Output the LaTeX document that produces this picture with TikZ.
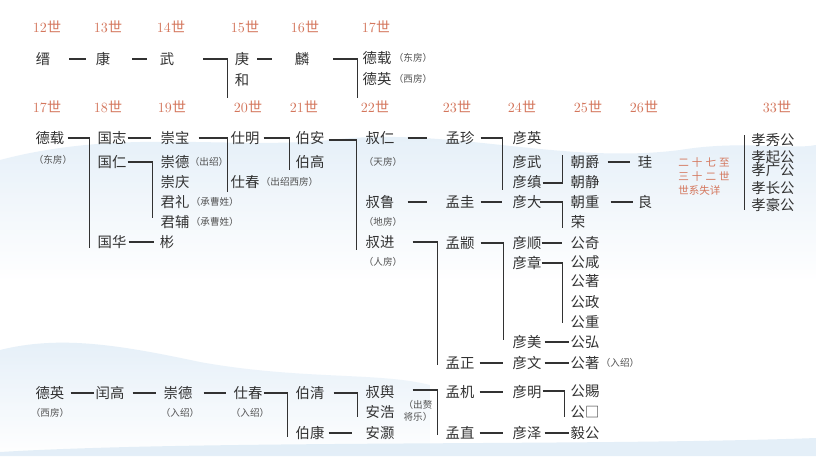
\documentclass[tikz,border=0pt]{standalone}
\usepackage{fontspec}
\usepackage{tikz}
\usetikzlibrary{calc}
\newfontfamily\cjk{Noto Sans CJK SC}
\definecolor{gencol}{RGB}{212,118,92}
\definecolor{ink}{RGB}{50,50,50}
\definecolor{mist}{RGB}{196,220,240}
\newcommand{\shi}[1]{#1{\cjk 世}}
\tikzset{
  person/.style={inner sep=0pt, text=ink, font=\cjk\fontsize{10.2}{12}\selectfont},
  remark/.style={inner sep=0pt, text=ink!85, font=\cjk\fontsize{6.8}{9}\selectfont},
  gen/.style={inner sep=0pt, text=gencol, font=\fontsize{10}{12}\selectfont},
  lost/.style={inner sep=0pt, text=gencol, anchor=west, font=\cjk\fontsize{7.5}{9}\selectfont},
  link/.style={draw=ink, line width=0.95pt},
}

\begin{document}
\begin{tikzpicture}[x=0.025cm, y=-0.025cm]
    \useasboundingbox (0,0) rectangle (816,456);

    % Background
    \fill[white] (0,0) rectangle (816,456);
    \begin{scope}[opacity=0.45]
    \shade[top color=mist, bottom color=white] (0,160) .. controls (120,128) and (230,150) .. (330,140) .. controls (450,126) and (560,165) .. (680,150) .. controls (740,140) and (790,150) .. (816,145) -- (816,280) -- (0,280) -- cycle;
    \shade[top color=mist, bottom color=white] (0,350) .. controls (60,335) and (120,345) .. (200,362) .. controls (300,380) and (380,372) .. (430,385) -- (430,456) -- (0,456) -- cycle;
    \fill[mist] (0,452) .. controls (200,440) and (600,446) .. (816,438) -- (816,456) -- (0,456) -- cycle;
    \end{scope}

    % Generations 12-17
    \node[gen] (g12) at (47,27) {\shi{12}};
    \node[gen] (g13) at (108,27) {\shi{13}};
    \node[gen] (g14) at (171,27) {\shi{14}};
    \node[gen] (g15) at (245,27) {\shi{15}};
    \node[gen] (g16) at (305,27) {\shi{16}};
    \node[gen] (g17) at (376,27) {\shi{17}};

    \node[person] (jin) at (43,59) {缙};
    \node[person] (kang) at (103,59) {康};
    \node[person] (wu) at (167,59) {武};
    \node[person] (geng) at (242,59) {庚};
    \node[person] (he) at (242,80) {和};
    \node[person] (lin) at (302,59) {麟};
    \node[person] (dezai) at (377,58) {德载};
    \node[remark, anchor=west] (dezai-r) at ($(dezai.east)+(2,0)$) {（东房）};
    \node[person] (deying) at (377,79) {德英};
    \node[remark, anchor=west] (deying-r) at ($(deying.east)+(2,0)$) {（西房）};

    \draw[link] ($(jin.east)+(19,0)$) -- ($(kang.west)+(-10,0)$);
    \draw[link] ($(kang.east)+(22,0)$) -- ($(wu.west)+(-13,0)$);
    \draw[link] ($(wu.east)+(29,0)$) -| ($(he.west)+(-7,18)$);
    \draw[link] ($(geng.east)+(8,0)$) -- ($(lin.west)+(-23,0)$);
    \draw[link] ($(lin.east)+(24,0)$) -| ($(deying.west)+(-5,19)$);

    % Generations 17-33
    \node[gen] (h17) at (47,107) {\shi{17}};
    \node[gen] (h18) at (108,107) {\shi{18}};
    \node[gen] (h19) at (172,107) {\shi{19}};
    \node[gen] (h20) at (248,107) {\shi{20}};
    \node[gen] (h21) at (304,107) {\shi{21}};
    \node[gen] (h22) at (375,107) {\shi{22}};
    \node[gen] (h23) at (457,107) {\shi{23}};
    \node[gen] (h24) at (522,107) {\shi{24}};
    \node[gen] (h25) at (588,107) {\shi{25}};
    \node[gen] (h26) at (644,107) {\shi{26}};
    \node[gen] (h33) at (777,107) {\shi{33}};

    % East branch
    \node[person] (dezai2) at (50,138) {德载};
    \node[remark] (dezai2-r) at ($(dezai2)+(3,22)$) {（东房）};
    \node[person] (guozhi) at (112,138) {国志};
    \node[person] (guoren) at (112,162) {国仁};
    \node[person] (guohua) at (112,242) {国华};
    \node[person] (chongbao) at (175,138) {崇宝};
    \node[person] (chongde) at (175,162) {崇德};
    \node[remark, anchor=west] (chongde-r) at (chongde.east) {（出绍）};
    \node[person] (chongqing) at (175,182) {崇庆};
    \node[person] (junli) at (175,202) {君礼};
    \node[remark, anchor=west] (junli-r) at ($(junli.east)+(1,0)$) {（承曹姓）};
    \node[person] (junfu) at (175,222) {君辅};
    \node[remark, anchor=west] (junfu-r) at ($(junfu.east)+(1,0)$) {（承曹姓）};
    \node[person] (bin) at (167,242) {彬};
    \node[person] (shiming) at (245,138) {仕明};
    \node[person] (shichun) at (245,182) {仕春};
    \node[remark, anchor=west] (shichun-r) at ($(shichun.east)+(1,0)$) {（出绍西房）};
    \node[person] (boan) at (310,138) {伯安};
    \node[person] (bogao) at (310,162) {伯高};
    \node[person] (shuren) at (380,138) {叔仁};
    \node[remark] (shuren-r) at ($(shuren)+(3,24)$) {（天房）};
    \node[person] (shulu) at (380,202) {叔鲁};
    \node[remark] (shulu-r) at ($(shulu)+(3,20)$) {（地房）};
    \node[person] (shujin) at (380,242) {叔进};
    \node[remark] (shujin-r) at ($(shujin)+(3,20)$) {（人房）};

    \draw[link] ($(dezai2.east)+(3,0)$) -| ($(guohua.west)+(-8,6)$);
    \draw[link] ($(guozhi.east)+(1,0)$) -- ($(chongbao.west)+(-9,0)$);
    \draw[link] ($(guoren.east)+(1,0)$) -| ($(junfu.west)+(-8,-4)$);
    \draw[link] ($(guohua.east)+(2,0)$) -- ($(bin.west)+(-6,0)$);
    \draw[link] ($(chongbao.east)+(9,0)$) -| ($(shichun.west)+(-3,10)$);
    \draw[link] ($(shiming.east)+(4,0)$) -| ($(bogao.west)+(-6,8)$);
    \draw[link] ($(boan.east)+(4,2)$) -| ($(shujin.west)+(-9,8)$);

    % Right part
    \node[person] (mengzhen) at (460,138) {孟珍};
    \node[person] (menggui) at (460,202) {孟圭};
    \node[person] (mengzhuan) at (460,243) {孟颛};
    \node[person] (mengzheng) at (460,363) {孟正};
    \node[person] (yanying) at (527,138) {彦英};
    \node[person] (yanwu) at (527,162) {彦武};
    \node[person] (yanzhen) at (527,182) {彦缜};
    \node[person] (yanda) at (527,202) {彦大};
    \node[person] (yanshun) at (527,243) {彦顺};
    \node[person] (yanzhang) at (527,263) {彦章};
    \node[person] (yanmei) at (527,342) {彦美};
    \node[person] (yanwen) at (527,363) {彦文};
    \node[person] (chaojue) at (585,162) {朝爵};
    \node[person] (chaojing) at (585,182) {朝静};
    \node[person] (chaozhong) at (585,202) {朝重};
    \node[person] (rong) at (578,222) {荣};
    \node[person] (gongqi) at (585,243) {公奇};
    \node[person] (gongxian) at (585,262) {公咸};
    \node[person] (gongzhu) at (585,281) {公著};
    \node[person] (gongzheng) at (585,302) {公政};
    \node[person] (gongzhong) at (585,322) {公重};
    \node[person] (gonghong) at (585,342) {公弘};
    \node[person] (gongzhu2) at (585,363) {公著};
    \node[remark, anchor=west] (gongzhu2-r) at ($(gongzhu2.east)+(1,0)$) {（入绍）};
    \node[person] (gui) at (645,162) {珪};
    \node[person] (liang) at (645,202) {良};

    \draw[link] ($(shuren.east)+(13,0)$) -- ($(mengzhen.west)+(-18,0)$);
    \draw[link] ($(mengzhen.east)+(6,0)$) -| ($(yanzhen.west)+(-10,8)$);
    \draw[link] ($(yanzhen.east)+(1,1)$) -| ($(chaojue.west)+(-8,-7)$);
    \draw[link] ($(chaojue.east)+(8,0)$) -- ($(gui.west)+(-8,0)$);
    \draw[link] ($(shulu.east)+(13,0)$) -- ($(menggui.west)+(-18,0)$);
    \draw[link] ($(menggui.east)+(6,0)$) -- ($(yanda.west)+(-10,0)$);
    \draw[link] ($(yanda.east)+(-2,0)$) -| ($(rong.west)+(-8,6)$);
    \draw[link] ($(chaozhong.east)+(11,0)$) -- ($(liang.west)+(-5,0)$);
    \draw[link] ($(shujin.east)+(18,0)$) -| ($(mengzheng.west)+(-8,2)$);
    \draw[link] ($(mengzhuan.east)+(6,0)$) -| ($(yanmei.west)+(-9,-2)$);
    \draw[link] ($(yanshun.east)+(0,0)$) -- ($(gongqi.west)+(-8,0)$);
    \draw[link] ($(yanzhang.east)+(0,0)$) -| ($(gongzhong.west)+(-8,1)$);
    \draw[link] ($(yanmei.east)+(3,0)$) -- ($(gonghong.west)+(-1,0)$);
    \draw[link] ($(mengzheng.east)+(5,0)$) -- ($(yanwen.west)+(-9,0)$);
    \draw[link] ($(yanwen.east)+(3,0)$) -- ($(gongzhu2.west)+(-1,0)$);

    % Generations 27-33
    \node[lost] (lost1) at (678,162) {二\hspace{2.2pt}十\hspace{2.2pt}七\hspace{2.2pt}至};
    \node[lost] (lost2) at (678,176) {三\hspace{2.2pt}十\hspace{2.2pt}二\hspace{2.2pt}世};
    \node[lost] (lost3) at (678,190) {世系失详};
    \node[person] (xiaoxiu) at (773,140) {孝秀公};
    \node[person] (xiaoqi) at (773,157) {孝起公};
    \node[person] (xiaoguang) at (773,170) {孝广公};
    \node[person] (xiaochang) at (773,188) {孝长公};
    \node[person] (xiaohao) at (773,205) {孝豪公};
    \draw[link] ($(xiaoxiu.west)+(-7,-5)$) -- ($(xiaohao.west)+(-7,5)$);

    % West branch
    \node[person] (deying2) at (50,393) {德英};
    \node[remark] (deying2-r) at ($(deying2)+(0,20)$) {（西房）};
    \node[person] (rungao) at (110,393) {闰高};
    \node[person] (chongde2) at (178,393) {崇德};
    \node[remark] (chongde2-r) at ($(chongde2)+(2,20)$) {（入绍）};
    \node[person] (shichun2) at (248,393) {仕春};
    \node[remark] (shichun2-r) at ($(shichun2)+(2,20)$) {（入绍）};
    \node[person] (boqing) at (310,393) {伯清};
    \node[person] (bokang) at (310,433) {伯康};
    \node[person] (shuyu) at (380,392) {叔舆};
    \node[person] (anhao) at (380,412) {安浩};
    \node[person] (anhao2) at (380,433) {安灏};
    \node[remark, align=center] (shuyu-r) at (418,411) {（出赘\\将乐）};
    \node[person] (mengji) at (460,392) {孟机};
    \node[person] (mengzhi) at (460,433) {孟直};
    \node[person] (yanming) at (527,392) {彦明};
    \node[person] (yanze) at (527,433) {彦泽};
    \node[person] (gongci) at (585,391) {公賜};
    \node[person] (gongkong) at (585,412) {公□};
    \node[person] (yigong) at (585,433) {毅公};

    \draw[link] ($(deying2.east)+(6,0)$) -- ($(rungao.west)+(-1,0)$);
    \draw[link] ($(rungao.east)+(8,0)$) -- ($(chongde2.west)+(-7,0)$);
    \draw[link] ($(chongde2.east)+(11,0)$) -- ($(shichun2.west)+(-7,0)$);
    \draw[link] ($(shichun2.east)+(1,0)$) -| ($(bokang.west)+(-8,4)$);
    \draw[link] ($(boqing.east)+(9,0)$) -| ($(anhao.west)+(-8,5)$);
    \draw[link] ($(bokang.east)+(4,0)$) -- ($(anhao2.west)+(-13,0)$);
    \draw[link] ($(shuyu.east)+(18,-2)$) -| ($(mengzhi.west)+(-8,2)$);
    \draw[link] ($(mengji.east)+(5,0)$) -- ($(yanming.west)+(-9,0)$);
    \draw[link] ($(yanming.east)+(1,-1)$) -| ($(gongkong.west)+(-6,5)$);
    \draw[link] ($(mengzhi.east)+(5,0)$) -- ($(yanze.west)+(-9,0)$);
    \draw[link] ($(yanze.east)+(3,0)$) -- ($(yigong.west)+(-1,0)$);
\end{tikzpicture}
\end{document}
